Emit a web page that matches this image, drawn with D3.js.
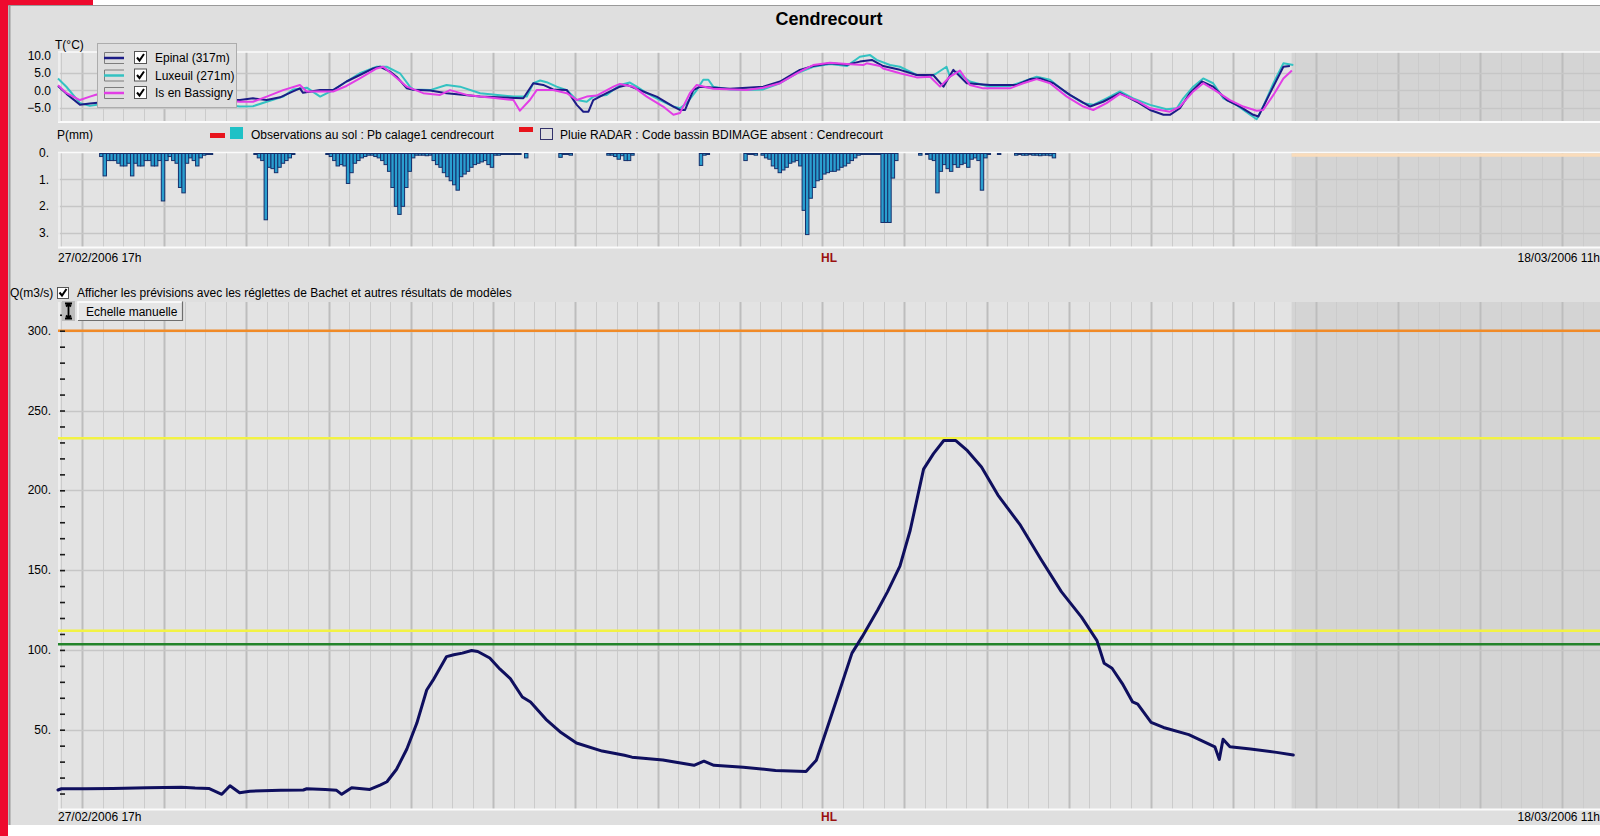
<!DOCTYPE html>
<html>
<head>
<meta charset="utf-8">
<script src="https://cdn.jsdelivr.net/npm/d3@7"></script>
<style>
  html, body { margin: 0; padding: 0; background: #ffffff; }
  svg { display: block; font-family: "Liberation Sans", Arial, sans-serif; }
</style>
</head>
<body>
<svg id="chart" width="1600" height="836"></svg>
<script>
// ---------------------------------------------------------------------------
// Data — time is counted in hours from the start of the window
// ---------------------------------------------------------------------------
const stationName = "Cendrecourt";
const startTime = new Date(Date.UTC(2006, 1, 27, 17));   // 27/02/2006 17h
const endTime   = new Date(Date.UTC(2006, 2, 18, 11));   // 18/03/2006 11h
const forecastStartHour = 360;                           // beginning of the forecast period

// Air temperature (°C) per station: [hour, value]
const tempEpinal = [
  [0,1.3],[2.5,-1.0],[6.4,-4.2],[9.3,-3.8],[12.3,-3.5],[20,-3.0],[27,-2.5],[35,-2.6],[41.4,-2.8],
  [53.1,-2.8],[56.9,-2.3],[60.9,-2.8],[64.8,-2.0],[68.6,-0.3],[70.6,0.6],[71.5,-0.7],[76.5,0.1],
  [80.3,0.1],[84.2,2.6],[88.1,4.5],[92,6.4],[94,6.9],[96.9,5.5],[98.8,4.0],[101.8,0.6],[103.6,0.2],
  [108.6,0.0],[113.4,-0.8],[123.2,-1.8],[135.8,-2.3],[138.7,2.1],[141.6,1.6],[144.5,0.3],[148.5,0.1],
  [151.4,-4.2],[153.3,-6.2],[154.8,-6.2],[156.2,-2.8],[160.1,-0.8],[164,1.1],[166,1.6],[170.8,-0.3],
  [174.7,-1.8],[179.6,-4.7],[181.5,-5.7],[183,-5.7],[185.4,0.1],[187.4,1.1],[196.1,0.5],[205.8,1.1],
  [210.7,2.6],[216.5,6.0],[220.4,7.1],[225.3,7.9],[230.2,7.5],[234,8.4],[237.5,8.9],[240.8,7.1],
  [245.7,6.0],[250.6,4.5],[255.4,4.5],[258.4,1.1],[261.3,6.0],[265.2,2.1],[272,1.6],[279.8,1.6],
  [283.7,3.3],[286.6,3.5],[290.5,2.1],[295.3,-1.3],[301.2,-4.7],[305,-3.3],[309.9,-0.8],[314.8,-3.3],
  [318.7,-5.7],[322.6,-7.1],[324.5,-7.1],[327.4,-5.2],[330.3,-0.8],[333.8,2.6],[337.1,1.1],[341.1,-2.8],
  [344.9,-4.7],[348.8,-7.1],[350.3,-7.6],[353.7,-0.8],[357.6,6.9],[359.5,7.1]
];
const tempLuxeuil = [
  [0,3.5],[2.5,1.0],[6.4,-3.7],[9.3,-4.5],[12.3,-4.0],[20,-3.5],[27,-3.0],[35,-3.3],[41.4,-3.5],
  [53.1,-4.7],[56.9,-4.6],[60.9,-3.3],[65.7,-1.8],[68.7,0.3],[72.6,0.8],[76.5,-1.8],[80.3,0.1],
  [84.2,2.6],[88.1,5.0],[93,6.9],[95.9,6.9],[99.8,5.0],[102.7,1.1],[103.7,0.3],[108.6,0.1],[113.4,1.6],
  [117.3,1.1],[123.2,-0.8],[132.9,-1.8],[136.8,-1.8],[138.7,2.1],[140.7,2.9],[142.6,2.4],[145.5,1.1],
  [148.5,0.1],[151.4,-2.8],[154.3,-3.3],[156.2,-1.8],[160.1,-1.3],[164,1.6],[166.9,2.3],[168.9,1.1],
  [171.8,-0.8],[175.7,-2.8],[179.6,-4.7],[181.5,-5.2],[183.5,-3.7],[186.4,0.1],[188.3,3.1],[189.8,3.1],
  [191.2,1.1],[196.1,0.3],[201,0.1],[205.8,0.3],[210.7,2.1],[215.6,5.0],[220.4,6.9],[225.3,7.7],
  [230.2,7.1],[234,9.8],[237,10.3],[238.9,8.9],[242.8,7.4],[245.7,6.9],[250.6,4.5],[254.5,4.0],
  [256.4,5.0],[259.3,6.9],[260.3,4.0],[262.3,5.5],[264.2,4.0],[266.1,2.6],[272,1.1],[277.8,1.3],
  [281.7,2.6],[285.6,4.0],[289.5,3.1],[294.4,-0.8],[299.2,-3.7],[302.1,-4.2],[306,-2.3],[309.9,-0.3],
  [313.8,-2.3],[318.7,-4.2],[323.5,-5.5],[326.5,-5.2],[328.4,-2.3],[331.3,1.1],[334.2,3.5],[337.1,2.1],
  [340.1,-2.3],[343.9,-4.2],[347.9,-7.1],[349.8,-8.4],[351.7,-4.7],[354.7,2.1],[357.6,7.9],[360.5,7.4]
];
const tempBassigny = [
  [0,1.5],[2.5,-0.8],[6.4,-2.8],[9.3,-1.8],[11.3,-1.2],[20,-1.5],[27,-1.5],[35,-2.0],[41.4,-2.5],
  [53.1,-3.3],[56.9,-3.3],[60.9,-1.8],[65.7,0.1],[70.6,1.6],[72.6,-0.3],[76.5,-0.3],[80.3,-0.3],
  [84.2,1.3],[88.1,3.5],[93,6.4],[94.9,6.9],[97.8,4.5],[101.8,1.1],[106.6,-0.8],[111.5,-1.3],[114.4,0.1],
  [119.3,-1.3],[123.2,-1.8],[128,-2.3],[132.9,-2.8],[134.8,-5.9],[137.7,-2.8],[139.7,0.1],[144.5,0.1],
  [148.5,-0.8],[151.4,-2.8],[154.3,-1.8],[157.2,-1.5],[162.1,1.1],[164,1.9],[167.9,1.1],[171.8,-1.8],
  [176.6,-4.7],[179.6,-7.1],[181.5,-6.6],[184.4,-0.8],[186.4,1.6],[191.2,0.5],[201,0.1],[205.8,0.8],
  [210.7,2.1],[215.6,5.0],[217.5,6.0],[220.4,7.4],[225.3,8.1],[230.2,7.7],[235,7.4],[236,7.9],
  [239.9,7.1],[240.8,6.4],[245.7,5.0],[250.6,3.8],[254.5,4.0],[257.4,1.1],[260.3,4.0],[263.2,5.8],
  [266.1,1.6],[270,0.6],[277.8,0.6],[281.7,2.1],[285.6,3.3],[289.5,2.1],[294.4,-1.8],[299.2,-4.7],
  [302.1,-5.7],[306,-3.7],[309.9,-1.0],[314.8,-3.0],[318.7,-5.2],[324.5,-6.2],[327.4,-4.7],[331.3,-0.3],
  [334.2,2.1],[338.1,-0.3],[342,-2.8],[345.9,-4.7],[349.8,-5.9],[351.7,-5.7],[354.7,-1.3],[357.6,3.5],
  [360.1,5.8]
];

const stationNames  = ["Epinal (317m)", "Luxeuil (271m)", "Is en Bassigny"];
const stationColors = ["#1c1c86", "#33c2c2", "#e23ee6"];

// Hourly rainfall observed on the ground (mm): [hour, value]
const rainObs = [
  [12,0.15],[13,0.87],[14,0.3],[15,0.3],[16,0.3],[17,0.4],[18,0.5],[19,0.5],[20,0.4],[21,0.87],
  [22,0.4],[23,0.5],[24,0.5],[25,0.3],[26,0.3],[27,0.5],[28,0.5],[29,0.3],[30,1.8],[31,0.3],
  [32,0.15],[33,0.3],[34,0.4],[35,1.3],[36,1.5],[37,0.4],[38,0.2],[39,0.3],[40,0.5],[41,0.2],
  [42,0.1],[43,0.05],[44,0.05],
  [57,0.05],[58,0.2],[59,0.3],[60,2.5],[61,0.55],[62,0.6],[63,0.75],[64,0.55],[65,0.4],[66,0.3],
  [67,0.2],[68,0.05],
  [78,0.05],[79,0.15],[80,0.3],[81,0.5],[82,0.45],[83,0.5],[84,1.15],[85,0.75],[86,0.4],[87,0.3],
  [88,0.2],[89,0.15],[90,0.1],[91,0.1],[92,0.15],[93,0.2],[94,0.3],[95,0.45],[96,0.7],[97,1.3],
  [98,2.0],[99,2.3],[100,2.0],[101,1.3],[102,0.7],[103,0.2],[104,0.1],[105,0.1],[106,0.1],[107,0.12],
  [108,0.1],[109,0.3],[110,0.45],[111,0.55],[112,0.75],[113,0.9],[114,1.05],[115,1.2],[116,1.4],
  [117,0.9],[118,0.8],[119,0.7],[120,0.55],[121,0.45],[122,0.4],[123,0.35],[124,0.3],[125,0.45],
  [126,0.55],[127,0.1],[128,0.1],[129,0.05],[130,0.05],[131,0.05],[132,0.05],[133,0.05],[134,0.05],
  [136,0.2],
  [146,0.18],[147,0.05],[148,0.05],[149,0.1],
  [160,0.1],[161,0.1],[162,0.15],[163,0.25],[164,0.12],[165,0.3],[166,0.3],[167,0.1],
  [187,0.48],[188,0.1],[189,0.05],
  [200,0.3],[201,0.05],[202,0.05],[203,0.1],
  [205,0.1],[206,0.2],[207,0.25],[208,0.5],[209,0.6],[210,0.75],[211,0.65],[212,0.55],[213,0.4],
  [214,0.35],[215,0.3],[216,0.5],[217,2.15],[218,3.05],[219,1.7],[220,1.3],[221,1.05],[222,1.0],
  [223,0.8],[224,0.75],[225,0.7],[226,0.7],[227,0.65],[228,0.55],[229,0.5],[230,0.4],[231,0.3],
  [232,0.2],[233,0.1],[234,0.05],[235,0.05],[236,0.05],[237,0.05],[238,0.05],[239,0.05],[240,2.6],
  [241,2.6],[242,2.6],[243,0.95],[244,0.3],
  [251,0.1],[253,0.05],[254,0.25],[255,0.3],[256,1.5],[257,0.7],[258,0.45],[259,0.6],[260,0.7],
  [261,0.45],[262,0.55],[263,0.45],[264,0.4],[265,0.55],[266,0.25],[267,0.2],[268,0.3],[269,1.4],
  [270,0.2],[271,0.05],
  [274,0.05],
  [279,0.1],[280,0.05],[281,0.1],[282,0.1],[283,0.08],[284,0.1],[285,0.1],[286,0.12],[287,0.1],
  [288,0.1],[289,0.12],[290,0.2]
];

// Observed discharge (m3/s): [hour, value]
const debitObs = [
  [0,12.2],[1,13],[8,13],[16,13.2],[26,13.6],[36,14],[40,13.4],[44,13.2],[47.8,9.5],[50.2,14.9],
  [53,10.5],[56,11.5],[65,12],[71.6,12.2],[72.6,13],[78,12.5],[81.3,12],[82.8,9.5],[85.7,13.6],
  [91,12.6],[94,15.3],[96,17.4],[98.8,25.2],[101.8,37.9],[104.7,54],[107.6,74.9],[109.5,81.2],
  [113.4,95.8],[115.5,97],[118,98],[120.7,99.6],[122.5,99],[126,94.9],[129,87.9],[132,82],
  [135.5,70.5],[137.9,67.4],[142.4,56.5],[146.8,48.2],[151.3,41.7],[158.8,36.6],[165.3,34],
  [167.5,32.8],[176.5,31],[185.6,27.7],[188.5,30.3],[191.4,27.7],[200,26.5],[209.4,24.5],
  [218.3,23.8],[221.3,30.9],[224.3,50],[227.8,72.5],[231.7,98],[234.7,108.3],[239.2,125],
  [242.1,136.5],[245.7,152.5],[248.7,175],[252.6,213.3],[255.5,223],[258.5,231.2],[262,231.2],
  [265.4,224.8],[269.5,214.6],[274.3,197],[280.9,178],[286.8,157],[292.8,136.5],[298.7,120.5],
  [303.2,105.8],[305.3,91.6],[307.6,88.5],[310.6,78.9],[313.6,67.4],[315.1,66],[319,54.6],
  [322.6,51.4],[330,46.9],[337.6,39.3],[338.9,31.4],[340,44],[342,39.3],[348,37.9],[355.6,35.8],
  [360.5,34.1]
];

// Discharge thresholds (m3/s) and their colours
const seuilValues = [300, 232.6, 112, 103.6];
const seuilColors = ["#f08a28", "#f2f244", "#f2f244", "#23832a"];

const tempTicks  = [10, 5, 0, -5];
const rainTicks  = [0, 1, 2, 3];
const debitTicks = [300, 250, 200, 150, 100, 50];

// ---------------------------------------------------------------------------
// Layout
// ---------------------------------------------------------------------------
const svg = d3.select("#chart");
const left = 58, right = 1600;
const tBox = { top: 52, bottom: 122 };
const pBox = { top: 152.5, bottom: 247.5 };
const qBox = { top: 302, bottom: 809.5 };

const panelBg = "#dfdfdf", plotBg = "#e3e3e3", forecastBg = "#d4d4d4";
const font = "12px";

const atHour = h => new Date(startTime.getTime() + h * 3600e3);
const x = d3.scaleUtc().domain([startTime, endTime]).range([left, right]);
const xh = h => x(atHour(h));

const yT = d3.scaleLinear().domain([-9.2, 11.2]).range([tBox.bottom, tBox.top]);
const yP = d3.scaleLinear().domain([0, 3.5]).range([pBox.top, 246.7]);
const yQ = d3.scaleLinear().domain([0, 318]).range([qBox.bottom, qBox.top]);

// Window frame
svg.append("rect").attr("width", 1600).attr("height", 836).attr("fill", "#ffffff");
svg.append("rect").attr("x", 8).attr("y", 5).attr("width", 1592).attr("height", 820).attr("fill", panelBg);
svg.append("line").attr("x1", 8).attr("x2", 1600).attr("y1", 5.5).attr("y2", 5.5).attr("stroke", "#9a9a9a");
svg.append("line").attr("x1", 9.5).attr("x2", 9.5).attr("y1", 5).attr("y2", 825).attr("stroke", "#9a9a9a").attr("stroke-width", 2);
svg.append("rect").attr("x", 0).attr("y", 0).attr("width", 8).attr("height", 836).attr("fill", "#ee0a2e");
svg.append("rect").attr("x", 0).attr("y", 0).attr("width", 93).attr("height", 5).attr("fill", "#ee0a2e");

// Title
svg.append("text").attr("x", (left + right) / 2).attr("y", 25).attr("text-anchor", "middle")
  .attr("font-size", "18px").attr("font-weight", "bold").attr("fill", "#000").text(stationName);

// Plot backgrounds, forecast shading and time grid (every 6 h, midnight lines stronger)
const sixHours = x.ticks(d3.utcHour.every(6));
function plotFrame(box) {
  const g = svg.append("g");
  g.append("rect").attr("x", left).attr("y", box.top).attr("width", right - left)
    .attr("height", box.bottom - box.top).attr("fill", plotBg);
  g.append("rect").attr("x", xh(forecastStartHour)).attr("y", box.top)
    .attr("width", right - xh(forecastStartHour)).attr("height", box.bottom - box.top).attr("fill", forecastBg);
  g.selectAll("line.v").data(sixHours).join("line")
    .attr("x1", d => Math.round(x(d)) + 0.5).attr("x2", d => Math.round(x(d)) + 0.5)
    .attr("y1", box.top).attr("y2", box.bottom)
    .attr("stroke", d => d.getUTCHours() === 0 ? "#bdbdbd" : "#cbcbcb")
    .attr("stroke-width", d => d.getUTCHours() === 0 ? 2 : 1);
  return g;
}
function hGrid(g, scale, values) {
  g.selectAll("line.h").data(values).join("line")
    .attr("x1", left).attr("x2", right)
    .attr("y1", d => Math.round(scale(d)) + 0.5).attr("y2", d => Math.round(scale(d)) + 0.5)
    .attr("stroke", "#c6c6c6").attr("stroke-width", 1.5);
}
function edges(box, top, bottom) {
  if (top) svg.append("line").attr("x1", left).attr("x2", right).attr("y1", box.top).attr("y2", box.top)
    .attr("stroke", "#fbfbfb").attr("stroke-width", 1.5);
  if (bottom) svg.append("line").attr("x1", left).attr("x2", right).attr("y1", box.bottom).attr("y2", box.bottom)
    .attr("stroke", "#fbfbfb").attr("stroke-width", 2);
  svg.append("line").attr("x1", left + 1).attr("x2", left + 1).attr("y1", box.top).attr("y2", box.bottom)
    .attr("stroke", "#f2f2f2").attr("stroke-width", 1.5);
}

// ---------------- Temperature panel ----------------
const gT = plotFrame(tBox);
hGrid(gT, yT, [5, 0, -5]);
edges(tBox, true, true);

svg.append("g").attr("transform", `translate(${left},0)`)
  .call(d3.axisLeft(yT).tickValues(tempTicks).tickSize(0).tickPadding(7).tickFormat(d3.format(".1f")))
  .call(g => g.select(".domain").remove())
  .call(g => g.selectAll("text").attr("font-size", font).attr("font-family", null).attr("fill", "#000").attr("dy", "0.3em"));
svg.append("text").attr("x", 55).attr("y", 49).attr("font-size", font).text("T(°C)");

const lineT = d3.line().x(d => xh(d[0])).y(d => yT(d[1])).curve(d3.curveLinear);
[[tempLuxeuil, 1], [tempEpinal, 0], [tempBassigny, 2]].forEach(([s, i]) => {
  svg.append("path").datum(s).attr("d", lineT).attr("fill", "none")
    .attr("stroke", stationColors[i]).attr("stroke-width", 2).attr("stroke-linejoin", "round");
});

// Station legend
const leg = svg.append("g");
leg.append("rect").attr("x", 97.5).attr("y", 43.5).attr("width", 139).attr("height", 64)
  .attr("fill", "#dedede").attr("stroke", "#acacac");
const legRows = [58, 75.5, 93];
stationNames.forEach((name, i) => {
  const y = legRows[i];
  leg.append("path").attr("d", `M124,${y - 5.5}H104.5V${y + 5.5}H124`).attr("fill", "none").attr("stroke", "#7d7d7d");
  leg.append("line").attr("x1", 104).attr("x2", 124).attr("y1", y).attr("y2", y)
    .attr("stroke", stationColors[i]).attr("stroke-width", 2.5);
  leg.append("rect").attr("x", 134.5).attr("y", y - 6.5).attr("width", 12).attr("height", 12)
    .attr("fill", "#ffffff").attr("stroke", "#555");
  leg.append("path").attr("d", `M137,${y - 0.5}l2.5,3l4.5,-6.5`).attr("fill", "none")
    .attr("stroke", "#000").attr("stroke-width", 2);
  leg.append("text").attr("x", 155).attr("y", y + 4).attr("font-size", font).text(name);
});

// ---------------- Rainfall panel ----------------
svg.append("text").attr("x", 57).attr("y", 139).attr("font-size", font).text("P(mm)");
svg.append("rect").attr("x", 210).attr("y", 133).attr("width", 15).attr("height", 5).attr("fill", "#e8141c");
svg.append("rect").attr("x", 230).attr("y", 127).attr("width", 13).attr("height", 12).attr("fill", "#1fc1c6");
svg.append("text").attr("x", 251).attr("y", 139).attr("font-size", font).text("Observations au sol : Pb calage1 cendrecourt");
svg.append("rect").attr("x", 519).attr("y", 127).attr("width", 14).attr("height", 5).attr("fill", "#e8141c");
svg.append("rect").attr("x", 540.5).attr("y", 128.5).attr("width", 12).attr("height", 11)
  .attr("fill", "none").attr("stroke", "#33336b");
svg.append("text").attr("x", 560).attr("y", 139).attr("font-size", font).text("Pluie RADAR : Code bassin BDIMAGE absent : Cendrecourt");

const gP = plotFrame(pBox);
hGrid(gP, yP, [1, 2, 3]);
edges(pBox, true, true);

svg.append("g").attr("transform", `translate(${left},0)`)
  .call(d3.axisLeft(yP).tickValues(rainTicks).tickSize(0).tickPadding(9).tickFormat(d => d + "."))
  .call(g => g.select(".domain").remove())
  .call(g => g.selectAll("text").attr("font-size", font).attr("font-family", null).attr("fill", "#000").attr("dy", "0.3em"));

svg.append("g").selectAll("rect").data(rainObs).join("rect")
  .attr("x", d => xh(d[0]) + 0.5)
  .attr("y", yP(0) + 1)
  .attr("width", d => xh(d[0] + 1) - xh(d[0]))
  .attr("height", d => Math.max(yP(d[1]) - yP(0) - 1, 1))
  .attr("fill", "#2a9fcf").attr("stroke", "#16306c").attr("stroke-width", 1);

// Radar forecast (no data) drawn along the zero line
svg.append("line").attr("x1", xh(forecastStartHour)).attr("x2", right)
  .attr("y1", yP(0) + 2.5).attr("y2", yP(0) + 2.5).attr("stroke", "#fadcbb").attr("stroke-width", 3.5);

// Time labels under a panel
const fmtDate = d3.utcFormat("%d/%m/%Y %Hh");
function timeLabels(y) {
  svg.append("text").attr("x", x(startTime)).attr("y", y).attr("font-size", font).text(fmtDate(startTime));
  svg.append("text").attr("x", x(endTime)).attr("y", y).attr("text-anchor", "end").attr("font-size", font).text(fmtDate(endTime));
  svg.append("text").attr("x", (left + right) / 2).attr("y", y).attr("text-anchor", "middle")
    .attr("font-size", font).attr("font-weight", "bold").attr("fill", "#9a1010").text("HL");
}
timeLabels(262);

// ---------------- Discharge panel ----------------
svg.append("text").attr("x", 10).attr("y", 297).attr("font-size", font).text("Q(m3/s)");
svg.append("rect").attr("x", 57.5).attr("y", 287.5).attr("width", 11).attr("height", 11)
  .attr("fill", "#ffffff").attr("stroke", "#555");
svg.append("path").attr("d", "M59.5,292.5l2.5,3l4.5,-6.5").attr("fill", "none").attr("stroke", "#000").attr("stroke-width", 2);
svg.append("text").attr("x", 77).attr("y", 297).attr("font-size", font)
  .text("Afficher les prévisions avec les réglettes de Bachet et autres résultats de modèles");

const gQ = plotFrame(qBox);
hGrid(gQ, yQ, debitTicks);
edges(qBox, false, true);

// Threshold lines
svg.append("g").selectAll("line").data(seuilValues).join("line")
  .attr("x1", left).attr("x2", right)
  .attr("y1", d => yQ(d)).attr("y2", d => yQ(d))
  .attr("stroke", (d, i) => seuilColors[i]).attr("stroke-width", 2.5);

// Axis labels and small ticks every 10 m3/s
svg.append("g").attr("transform", `translate(${left},0)`)
  .call(d3.axisLeft(yQ).tickValues(debitTicks).tickSize(0).tickPadding(7).tickFormat(d => d + "."))
  .call(g => g.select(".domain").remove())
  .call(g => g.selectAll("text").attr("font-size", font).attr("font-family", null).attr("fill", "#000").attr("dy", "0.3em"));
svg.append("g").attr("transform", `translate(${left + 2},0)`)
  .call(d3.axisRight(yQ).tickValues(d3.range(10, 320, 10)).tickSize(5).tickFormat(""))
  .call(g => g.select(".domain").remove())
  .call(g => g.selectAll("line").attr("stroke", "#1a1a1a").attr("stroke-width", 1.6));

// Discharge curve
const lineQ = d3.line().x(d => xh(d[0])).y(d => yQ(d[1]));
svg.append("path").datum(debitObs).attr("d", lineQ).attr("fill", "none")
  .attr("stroke", "#0f0f5e").attr("stroke-width", 3).attr("stroke-linejoin", "round").attr("stroke-linecap", "round");

// Manual scale button
const btn = svg.append("g");
btn.append("rect").attr("x", 62).attr("y", 301).attr("width", 13).attr("height", 20).attr("fill", "#bdbdbd");
btn.append("path").attr("d", "M68.5,304V318M66,306.5l2.5,-2.5l2.5,2.5M66,315.5l2.5,2.5l2.5,-2.5M65,303.5h7M65,318.5h7")
  .attr("fill", "none").attr("stroke", "#000").attr("stroke-width", 1.8);
btn.append("rect").attr("x", 77.5).attr("y", 301.5).attr("width", 105).attr("height", 19)
  .attr("fill", "#e6e6e6").attr("stroke", "none");
btn.append("path").attr("d", "M78,320V302H182").attr("fill", "none").attr("stroke", "#ffffff").attr("stroke-width", 1.5);
btn.append("path").attr("d", "M78,320.5H182.5V301.5").attr("fill", "none").attr("stroke", "#6e6e6e").attr("stroke-width", 1.2);
btn.append("text").attr("x", 86).attr("y", 315.5).attr("font-size", font).text("Echelle manuelle");

timeLabels(821);
</script>
</body>
</html>
